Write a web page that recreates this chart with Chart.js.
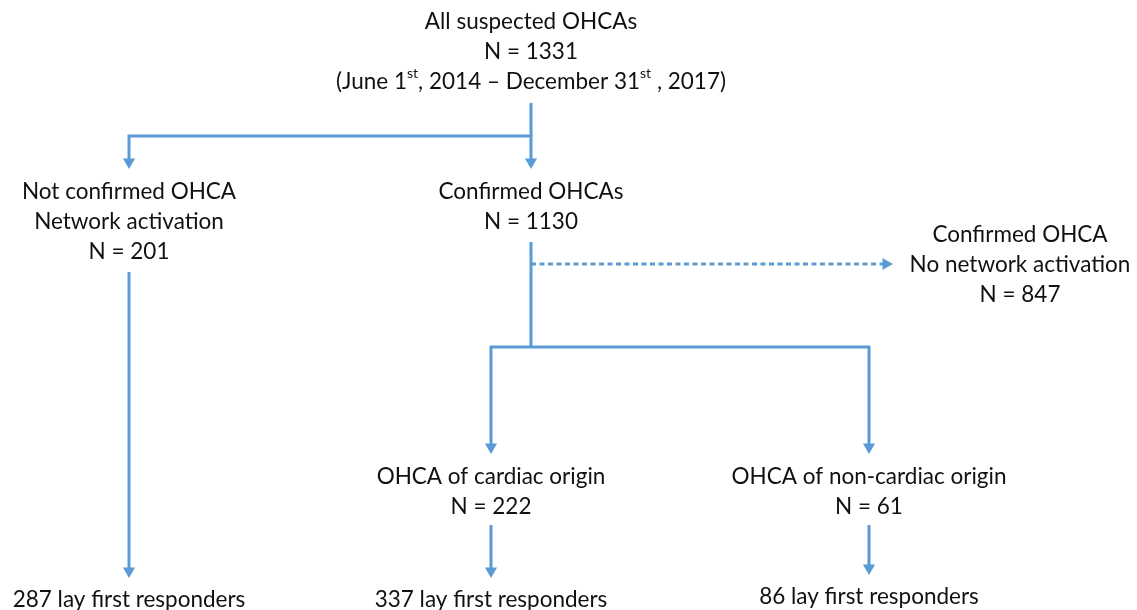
<!DOCTYPE html>
<html>
<head>
<meta charset="utf-8">
<script src="https://cdn.jsdelivr.net/npm/chart.js@4"></script>
<style>
  html, body { margin: 0; padding: 0; background: #fff; }
  #wrap { width: 1137px; height: 610px; }
</style>
</head>
<body>
<div id="wrap"><canvas id="flujo"></canvas></div>
<script>
// Cajas de texto del diagrama (centro x, centro y de la primera línea)
const cajaTextos = [
  ['All suspected OHCAs', 'N = 1331', '(June 1^st, 2014 \u2013 December 31^st , 2017)'],
  ['Not confirmed OHCA', 'Network activation', 'N = 201'],
  ['Confirmed OHCAs', 'N = 1130'],
  ['Confirmed OHCA', 'No network activation', 'N = 847'],
  ['OHCA of cardiac origin', 'N = 222'],
  ['OHCA of non-cardiac origin', 'N = 61'],
  ['287 lay first responders'],
  ['337 lay first responders'],
  ['86 lay first responders']
];
const cajaX = [531, 129, 531, 1020, 491, 869, 129, 491, 869];
const cajaY = [22, 192, 192, 235, 477, 477, 600, 600, 597];

// Conectores sólidos (cada uno es una polilínea)
const conectores = [
  [[531, 103], [531, 136]],
  [[129, 160], [129, 136], [531, 136], [531, 160]],
  [[129, 272], [129, 569]],
  [[531, 242], [531, 347]],
  [[491, 445], [491, 347], [869, 347], [869, 445]],
  [[491, 525], [491, 570]],
  [[869, 525], [869, 567]]
];
// Conector punteado
const punteado = [[531, 264], [884, 264]];

// Puntas de flecha: [x punta, y punta, dirección]
const flechas = [
  [129, 169, 'abajo'], [531, 169, 'abajo'],
  [129, 578, 'abajo'], [893, 264, 'derecha'],
  [491, 454, 'abajo'], [869, 454, 'abajo'],
  [491, 578, 'abajo'], [869, 575, 'abajo']
];

const AZUL = '#5b9bd5';
const FUENTE = 'Lato';
const TAM = 22.5;
const INTERLINEA = 30;
const R_FLECHA = 7;

function puntos(lista) {
  return lista.map(([x, y]) => ({ x, y }));
}

const datasets = conectores.map((c) => ({
  data: puntos(c),
  showLine: true,
  borderColor: AZUL,
  borderWidth: 3,
  pointRadius: 0,
  borderCapStyle: 'butt',
  borderJoinStyle: 'miter'
}));

datasets.push({
  data: puntos(punteado),
  showLine: true,
  borderColor: AZUL,
  borderWidth: 3,
  borderDash: [5, 3.5],
  pointRadius: 0,
  borderCapStyle: 'butt'
});

// Las flechas como puntos triangulares (centro desplazado desde la punta)
datasets.push({
  data: flechas.map(([x, y, d]) =>
    d === 'abajo' ? { x, y: y - R_FLECHA } : { x: x - R_FLECHA, y }),
  showLine: false,
  pointStyle: 'triangle',
  pointRadius: R_FLECHA,
  pointRotation: flechas.map(([, , d]) => (d === 'abajo' ? 180 : 90)),
  pointBackgroundColor: AZUL,
  pointBorderColor: AZUL,
  pointBorderWidth: 0
});

// Dibuja una línea con superíndices marcados como ^xx
function dibujarLinea(ctx, texto, cx, cy) {
  const partes = [];
  const re = /\^(\w+)/g;
  let ultimo = 0, m;
  while ((m = re.exec(texto)) !== null) {
    if (m.index > ultimo) partes.push({ t: texto.slice(ultimo, m.index), sup: false });
    partes.push({ t: m[1], sup: true });
    ultimo = re.lastIndex;
  }
  if (ultimo < texto.length) partes.push({ t: texto.slice(ultimo), sup: false });

  const fNormal = `${TAM}px ${FUENTE}`;
  const fSup = `${Math.round(TAM * 0.62)}px ${FUENTE}`;
  let ancho = 0;
  partes.forEach((p) => {
    ctx.font = p.sup ? fSup : fNormal;
    p.w = ctx.measureText(p.t).width;
    ancho += p.w;
  });
  let x = cx - ancho / 2;
  partes.forEach((p) => {
    ctx.font = p.sup ? fSup : fNormal;
    ctx.fillText(p.t, x, p.sup ? cy - TAM * 0.38 : cy);
    x += p.w;
  });
}

const pluginTextos = {
  id: 'textos',
  afterDraw(chart) {
    const { ctx, scales } = chart;
    ctx.save();
    ctx.fillStyle = '#111';
    ctx.textAlign = 'left';
    ctx.textBaseline = 'middle';
    cajaTextos.forEach((lineas, i) => {
      const cx = scales.x.getPixelForValue(cajaX[i]);
      lineas.forEach((linea, j) => {
        const cy = scales.y.getPixelForValue(cajaY[i] + j * INTERLINEA);
        dibujarLinea(ctx, linea, cx, cy);
      });
    });
    ctx.restore();
  }
};

new Chart(document.getElementById('flujo'), {
  type: 'scatter',
  data: { datasets },
  options: {
    responsive: true,
    maintainAspectRatio: false,
    animation: false,
    layout: { padding: 0, autoPadding: false },
    plugins: {
      legend: { display: false },
      tooltip: { enabled: false }
    },
    scales: {
      x: { type: 'linear', min: 0, max: 1137, display: false },
      y: { type: 'linear', min: 0, max: 610, reverse: true, display: false }
    }
  },
  plugins: [pluginTextos]
});
</script>
</body>
</html>
